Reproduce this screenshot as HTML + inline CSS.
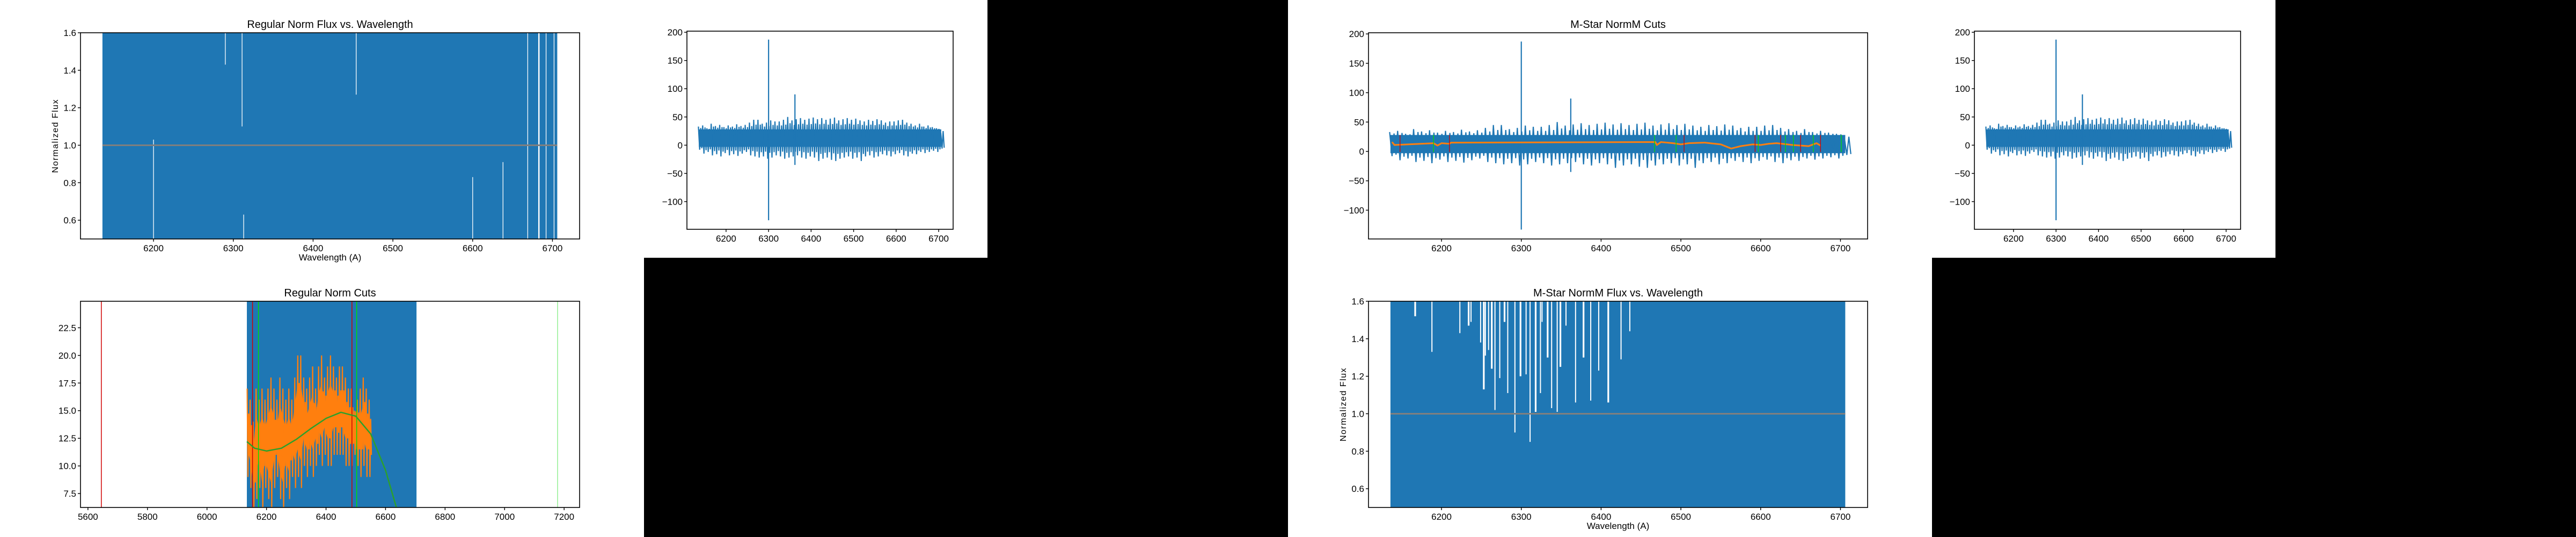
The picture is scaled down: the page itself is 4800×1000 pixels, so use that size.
<!DOCTYPE html>
<html><head><meta charset="utf-8"><style>
html,body{margin:0;padding:0;background:#000;}
svg{display:block;}
text{font-family:"Liberation Sans Narrow","Liberation Sans",sans-serif;fill:#000;}
</style></head><body>
<svg id="fig" width="4800" height="1000" viewBox="0 0 4800 1000" xmlns="http://www.w3.org/2000/svg">
<rect x="0" y="0" width="4800" height="1000" fill="#000"/>
<rect x="0" y="0" width="1840" height="480" fill="#fff"/>
<rect x="0" y="480" width="1200" height="520" fill="#fff"/>
<rect x="2400" y="0" width="1840" height="480" fill="#fff"/>
<rect x="2400" y="480" width="1200" height="520" fill="#fff"/>
</svg>
<script>
// ---- data ----
const noiseStart = 6135, noiseStep = 10;
const noiseHi = [33,35,30,38,34,36,32,35,33,37, 34,36,40,45,45,38,40,44,42,42, 45,50,44,46,48,45,47,49,46,48, 45,47,49,44,46,48,45,47,44,42, 45,43,46,44,40,42,42,44,45,40, 38,35,38,33,35,32,30,22];
const noiseLo = [-8,-15,-12,-18,-16,-20,-14,-18,-16,-19, -15,-12,-18,-20,-22,-20,-24,-22,-18,-20, -24,-22,-20,-18,-22,-24,-20,-22,-28,-24, -22,-26,-28,-24,-22,-20,-24,-22,-28,-20, -18,-22,-20,-16,-18,-20,-16,-14,-18,-20, -15,-16,-12,-14,-12,-10,-12,-6];
const spikeWl = [6300, 6362];
const spikeHi = [187, 90];
const spikeLo = [-133, -35];
const specRange = [6136, 6706];
// regular norm flux gaps (white lines)
const regGapWl = [6683, 6669, 6692, 6702, 6200, 6454, 6290, 6311, 6313, 6600, 6638];
const regGapTop = [1.6, 1.6, 1.6, 1.6, 1.03, 1.6, 1.6, 1.6, 0.63, 0.83, 0.91];
const regGapBot = [0.5, 0.5, 0.5, 0.5, 0.5, 1.27, 1.43, 1.1, 0.5, 0.5, 0.5];
// M-star normM flux notches
const mNotchWl = [6167,6188,6223,6234,6237,6249,6253,6255,6259,6263,6267,6273,6279,6283,6292,6299,6306,6311,6318,6324,6326,6333,6338,6345,6349,6356,6368,6378,6387,6397,6409,6425,6436];
const mNotchBot = [1.52,1.33,1.43,1.47,1.49,1.38,1.13,1.31,1.34,1.24,1.02,1.19,1.49,1.11,0.90,1.20,1.21,0.85,1.01,1.11,1.49,1.30,1.03,1.01,1.25,1.47,1.06,1.30,1.07,1.23,1.06,1.29,1.44];
// regular norm cuts
const cutOrStart = 6135, cutOrStep = 10;
const cutOrHi = [17,16,14,17,16,17,16,17,18,17, 16,18,17,16,17,16,18,20,20,18, 17,18,19,17,19,20,18,19,20,19, 18,19,19,18,17,17,15,16,17,18, 17,16];
const cutOrLo = [9,8,6,7,8,6,8,7,6,8, 9,7,6,8,7,9,8,9,8,10, 9,10,9,10,11,10,11,10,10,11, 11,11,11,10,10,10,11,10,9,10, 9,9];
const fitWl = [6134,6160,6200,6250,6300,6350,6400,6450,6500,6550,6600,6640];
const fitVal = [12.2,11.6,11.35,11.6,12.4,13.4,14.3,14.85,14.5,12.9,9.6,5.9];
const cutRedLines = [5645, 6153, 6487];
const cutGreenLines = [6173, 6503];
const cutLightGreenLines = [7178];
// M-star cuts
const mCutWl = [6138,6141,6190,6195,6200,6210,6212,6468,6470,6475,6490,6500,6510,6530,6550,6563,6575,6590,6600,6610,6620,6640,6660,6670,6675];
const mCutVal = [16,11,14,10,14,13,15,16,11,16,14,12,14,15,12,5,9,12,11,13,14,11,9,14,10];
const mCutRed = [6148,6210,6504,6593,6625,6650,6675];
const mCutGreen = [6190,6467,6494,6597,6631,6641,6666,6701];
// ticks
const fluxYTicks = [0.6,0.8,1.0,1.2,1.4];
const fluxYTickLabels = ["0.6","0.8","1.0","1.2","1.4","1.6"];
const specXTicks = [6200,6300,6400,6500,6600,6700];
const noiseYTicks = [-100,-50,0,50,100,150,200];
const noiseYTickLabels = ["\u2212100","\u221250","0","50","100","150","200"];
const cutXTicks = [5600,5800,6000,6200,6400,6600,6800,7000,7200];
const cutYTicks = [7.5,10.0,12.5,15.0,17.5,20.0,22.5];

const NS = "http://www.w3.org/2000/svg";
const svg = document.getElementById('fig');
const BLUE="#1f77b4", ORANGE="#ff7f0e", GREEN="#2ca02c";
let clipId = 0;
function el(tag, attrs, parent){const e=document.createElementNS(NS,tag);for(const k in attrs)e.setAttribute(k,attrs[k]);(parent||svg).appendChild(e);return e;}

function makeAxes(name,x0,y0,w,h,xmin,xmax,ymin,ymax){
  const g = el('g',{});
  
  
  clipId++;
  const cp = el('clipPath',{id:'c'+clipId},g);
  el('rect',{x:x0,y:y0,width:w,height:h},cp);
  const plot = el('g',{'clip-path':'url(#c'+clipId+')'},g);
  
  
  const sx = v => x0 + (v - xmin) / (xmax - xmin) * w;
  const sy = v => y0 + h - (v - ymin) / (ymax - ymin) * h;
  return {g,plot,sx,sy,x0,y0,w,h};
}
function frame(ax){
  const f = el('rect',{x:ax.x0,y:ax.y0,width:ax.w,height:ax.h,fill:'none',stroke:'#000','stroke-width':1.6},ax.g);
  
  
}
function xTicks(ax,ticks,labels){
  ticks.forEach((t,i)=>{
    const x = ax.sx(t), y = ax.y0+ax.h;
    el('line',{x1:x,x2:x,y1:y,y2:y+5,stroke:'#000','stroke-width':1.4},ax.g);
    const tx = el('text',{x:x,y:y+23,'font-size':17,'text-anchor':'middle'},ax.g);
    tx.textContent = labels ? labels[i] : String(t);
    
    
  });
}
function yTicks(ax,ticks,labels){
  ticks.forEach((t,i)=>{
    const y = ax.sy(t), x = ax.x0;
    el('line',{x1:x-5,x2:x,y1:y,y2:y,stroke:'#000','stroke-width':1.4},ax.g);
    const tx = el('text',{x:x-8,y:y+6,'font-size':17,'text-anchor':'end'},ax.g);
    tx.textContent = labels ? labels[i] : String(t);
    
    
  });
}
function title(ax,txt){
  const t = el('text',{x:ax.x0+ax.w/2,y:ax.y0-9,'font-size':20,'text-anchor':'middle'},ax.g);
  t.textContent = txt;
  
  
}
function xLabel(ax,txt,y){
  const t = el('text',{x:ax.x0+ax.w/2,y:y,'font-size':17,'text-anchor':'middle'},ax.g);
  t.textContent = txt;
  
  
}
function yLabel(ax,txt,x){
  const cy = ax.y0+ax.h/2;
  const t = el('text',{x:x,y:cy,'font-size':16,'text-anchor':'middle','letter-spacing':'1.5',transform:'rotate(-90 '+x+' '+cy+')',style:'font-family:"Liberation Sans",sans-serif'},ax.g);
  t.textContent = txt;
  
  
}
function vline(ax,x,y1,y2,color,wd,name){
  const l = el('line',{x1:x,x2:x,y1:y1,y2:y2,stroke:color,'stroke-width':wd},ax.plot);
  
  
  return l;
}
function noiseSpectrum(ax){
  const sx=ax.sx, sy=ax.sy;
  // core band
  const band = el('rect',{x:sx(specRange[0]),y:sy(28),width:sx(specRange[1])-sx(specRange[0]),height:sy(-3)-sy(28),fill:BLUE},ax.plot);
  
  
  let pts=[];
  for(let i=0;i<noiseHi.length;i++){
    const w = noiseStart + i*noiseStep;
    pts.push(sx(w)+','+sy(noiseHi[i]));
    pts.push(sx(w+noiseStep*0.3)+','+sy(noiseLo[i]));
    pts.push(sx(w+noiseStep*0.55)+','+sy((noiseHi[i]+28)/2));
    pts.push(sx(w+noiseStep*0.8)+','+sy((noiseLo[i]-3)/2));
  }
  const pl = el('polyline',{points:pts.join(' '),fill:'none',stroke:BLUE,'stroke-width':2.2},ax.plot);
  
  
  spikeWl.forEach((w,i)=>{
    vline(ax,sx(w),sy(spikeHi[i]),sy(spikeLo[i]),BLUE,2.2,'spectrum-spike');
  });
}

// ---- Axes 1: Regular Norm Flux vs Wavelength ----
{
  const ax = makeAxes('regular-norm-flux-chart',150,61,930,384,6108.5,6734,0.5,1.6);
  const r = el('rect',{x:ax.sx(specRange[0]),y:ax.y0,width:ax.sx(specRange[1])-ax.sx(specRange[0]),height:ax.h,fill:BLUE},ax.plot);
  
  
  regGapWl.forEach((w,i)=>{ vline(ax,ax.sx(w),ax.sy(regGapTop[i]),ax.sy(regGapBot[i]),'#fff',i===0?2.5:1.3,'flux-gap'); });
  const c = el('line',{x1:ax.sx(specRange[0]),x2:ax.sx(specRange[1]),y1:ax.sy(1.0),y2:ax.sy(1.0),stroke:'#7f7f7f','stroke-width':3},ax.plot);
  
  
  frame(ax); xTicks(ax,specXTicks); yTicks(ax,fluxYTicks.concat([1.6]),fluxYTickLabels);
  title(ax,'Regular Norm Flux vs. Wavelength');
  xLabel(ax,'Wavelength (A)',485);
  yLabel(ax,'Normalized Flux',108);
}
// ---- Axes 2: small noise top-left ----
{
  const ax = makeAxes('regular-spectrum-small-chart',1280,58,496,369,6108,6734,-149,202);
  noiseSpectrum(ax);
  frame(ax); xTicks(ax,specXTicks); yTicks(ax,noiseYTicks,noiseYTickLabels);
}
// ---- Axes 3: Regular Norm Cuts ----
{
  const ax = makeAxes('regular-norm-cuts-chart',150,561,930,384,5575,7252,6.24,24.9);
  const r = el('rect',{x:ax.sx(6134),y:ax.y0,width:ax.sx(6704)-ax.sx(6134),height:ax.h,fill:BLUE},ax.plot);
  
  
  let pts=[];
  for(let i=0;i<cutOrHi.length;i++){
    const w = cutOrStart + i*cutOrStep;
    pts.push(ax.sx(w)+','+ax.sy(cutOrHi[i]));
    pts.push(ax.sx(w+cutOrStep*0.25)+','+ax.sy(cutOrLo[i]));
    pts.push(ax.sx(w+cutOrStep*0.5)+','+ax.sy((cutOrHi[i]+cutOrLo[i]*1.2)/2.1+1.5));
    pts.push(ax.sx(w+cutOrStep*0.75)+','+ax.sy((cutOrLo[i]+cutOrHi[i])/2-1.5));
  }
  const band = el('polygon',{points:cutOrHi.map((h,i)=>ax.sx(cutOrStart+i*cutOrStep)+','+ax.sy(h-2.5)).concat(cutOrLo.slice().reverse().map((l,j)=>{const i=cutOrLo.length-1-j;return ax.sx(cutOrStart+i*cutOrStep)+','+ax.sy(l+2.5);})).join(' '),fill:ORANGE},ax.plot);
  
  
  const pl = el('polyline',{points:pts.join(' '),fill:'none',stroke:ORANGE,'stroke-width':2.2},ax.plot);
  
  
  cutRedLines.forEach(w=>vline(ax,ax.sx(w),ax.y0,ax.y0+ax.h,'#d00000',1.5,'cut-red-line'));
  cutGreenLines.forEach(w=>vline(ax,ax.sx(w),ax.y0,ax.y0+ax.h,'#00e000',1.5,'cut-green-line'));
  cutLightGreenLines.forEach(w=>vline(ax,ax.sx(w),ax.y0,ax.y0+ax.h,'#90ee90',1.5,'cut-lightgreen-line'));
  const fit = el('polyline',{points:fitWl.map((w,i)=>ax.sx(w)+','+ax.sy(fitVal[i])).join(' '),fill:'none',stroke:GREEN,'stroke-width':2.5,'stroke-linejoin':'round'},ax.plot);
  
  
  frame(ax); xTicks(ax,cutXTicks); yTicks(ax,cutYTicks,cutYTicks.map(v=>v.toFixed(1)));
  title(ax,'Regular Norm Cuts');
}
// ---- Axes 4: M-Star NormM Cuts ----
{
  const ax = makeAxes('mstar-norm-cuts-chart',2550,61,930,384,6108.5,6734,-149,202);
  noiseSpectrum(ax);
  const pl = el('polyline',{points:mCutWl.map((w,i)=>ax.sx(w)+','+ax.sy(mCutVal[i])).join(' '),fill:'none',stroke:ORANGE,'stroke-width':3},ax.plot);
  
  
  mCutRed.forEach(w=>vline(ax,ax.sx(w),ax.sy(28),ax.sy(-1),'#d00000',1.3,'mstar-cut-red'));
  mCutGreen.forEach(w=>vline(ax,ax.sx(w),ax.sy(28),ax.sy(-1),'#00e000',1.3,'mstar-cut-green'));
  frame(ax); xTicks(ax,specXTicks); yTicks(ax,noiseYTicks,noiseYTickLabels);
  title(ax,'M-Star NormM Cuts');
}
// ---- Axes 5: small noise top-right ----
{
  const ax = makeAxes('mstar-spectrum-small-chart',3679,58,496,369,6108,6734,-149,202);
  noiseSpectrum(ax);
  frame(ax); xTicks(ax,specXTicks); yTicks(ax,noiseYTicks,noiseYTickLabels);
}
// ---- Axes 6: M-Star NormM Flux vs Wavelength ----
{
  const ax = makeAxes('mstar-norm-flux-chart',2550,561,930,384,6108.5,6734,0.5,1.6);
  const r = el('rect',{x:ax.sx(specRange[0]),y:ax.y0,width:ax.sx(specRange[1])-ax.sx(specRange[0]),height:ax.h,fill:BLUE},ax.plot);
  
  
  mNotchWl.forEach((w,i)=>{ vline(ax,ax.sx(w),ax.y0,ax.sy(mNotchBot[i]),'#fff',(i%3===0)?3.2:2,'absorption-notch'); });
  const c = el('line',{x1:ax.sx(specRange[0]),x2:ax.sx(specRange[1]),y1:ax.sy(1.0),y2:ax.sy(1.0),stroke:'#7f7f7f','stroke-width':3},ax.plot);
  
  
  frame(ax); xTicks(ax,specXTicks); yTicks(ax,fluxYTicks.concat([1.6]),fluxYTickLabels);
  title(ax,'M-Star NormM Flux vs. Wavelength');
  xLabel(ax,'Wavelength (A)',985);
  yLabel(ax,'Normalized Flux',2508);
}
</script>
</body></html>
